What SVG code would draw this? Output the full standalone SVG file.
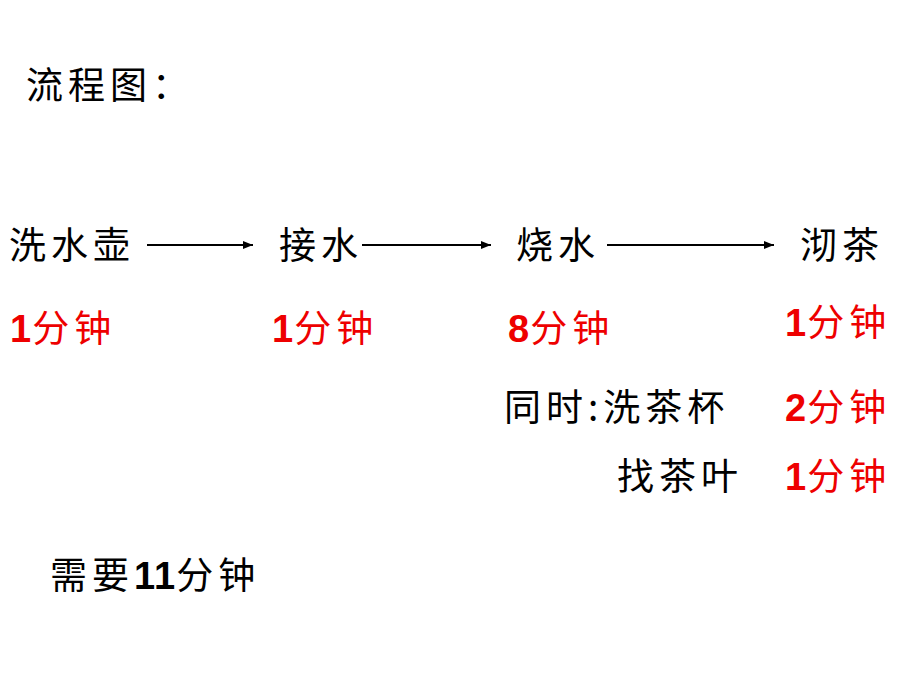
<svg xmlns="http://www.w3.org/2000/svg" width="920" height="690" viewBox="0 0 920 690">
<defs>
<style>
.t{font-family:"Noto Sans CJK SC","Noto Sans",sans-serif;font-size:37px;fill:#000;letter-spacing:5px}
.r{font-family:"Noto Sans CJK SC","Noto Sans",sans-serif;font-size:37px;fill:#ee0000;letter-spacing:5px}
.n{font-family:"Liberation Sans",Arial,sans-serif;font-weight:bold;font-size:38px;letter-spacing:1px}
.c{stroke:#000;stroke-width:2;fill:none;marker-end:url(#ah)}
</style>
<marker id="ah" viewBox="0 0 10 10" refX="10" refY="5" markerWidth="5" markerHeight="5" orient="auto" markerUnits="strokeWidth"><path d="M0,1 L10,5 L0,9 z" fill="#000"/></marker>
</defs>
<rect width="920" height="690" fill="#fff"/>
<text class="t" x="26" y="99" letter-spacing="3">流程图：</text>
<g id="connectors">
<line class="c" x1="147" y1="245" x2="253" y2="245"/>
<line class="c" x1="362" y1="245" x2="491" y2="245"/>
<line class="c" x1="607" y1="245" x2="774" y2="245"/>
</g>
<g id="n1"><text class="t" x="9" y="259">洗水壶</text><text class="r" x="10" y="342"><tspan class="n">1</tspan>分钟</text></g>
<g id="n2"><text class="t" x="279" y="259">接水</text><text class="r" x="272" y="342"><tspan class="n">1</tspan>分钟</text></g>
<g id="n3"><text class="t" x="516" y="259">烧水</text><text class="r" x="508" y="342"><tspan class="n">8</tspan>分钟</text></g>
<g id="n4"><text class="t" x="800" y="259">沏茶</text><text class="r" x="785" y="336"><tspan class="n">1</tspan>分钟</text></g>
<g id="n5"><text class="t" x="504" y="421" letter-spacing="4">同时:洗茶杯</text><text class="r" x="785" y="421"><tspan class="n">2</tspan>分钟</text></g>
<g id="n6"><text class="t" x="617" y="490">找茶叶</text><text class="r" x="785" y="490"><tspan class="n">1</tspan>分钟</text></g>
<text class="t" x="50" y="589" letter-spacing="0">需要<tspan class="n" font-size="37" letter-spacing="0">11</tspan>分钟</text>
</svg>
